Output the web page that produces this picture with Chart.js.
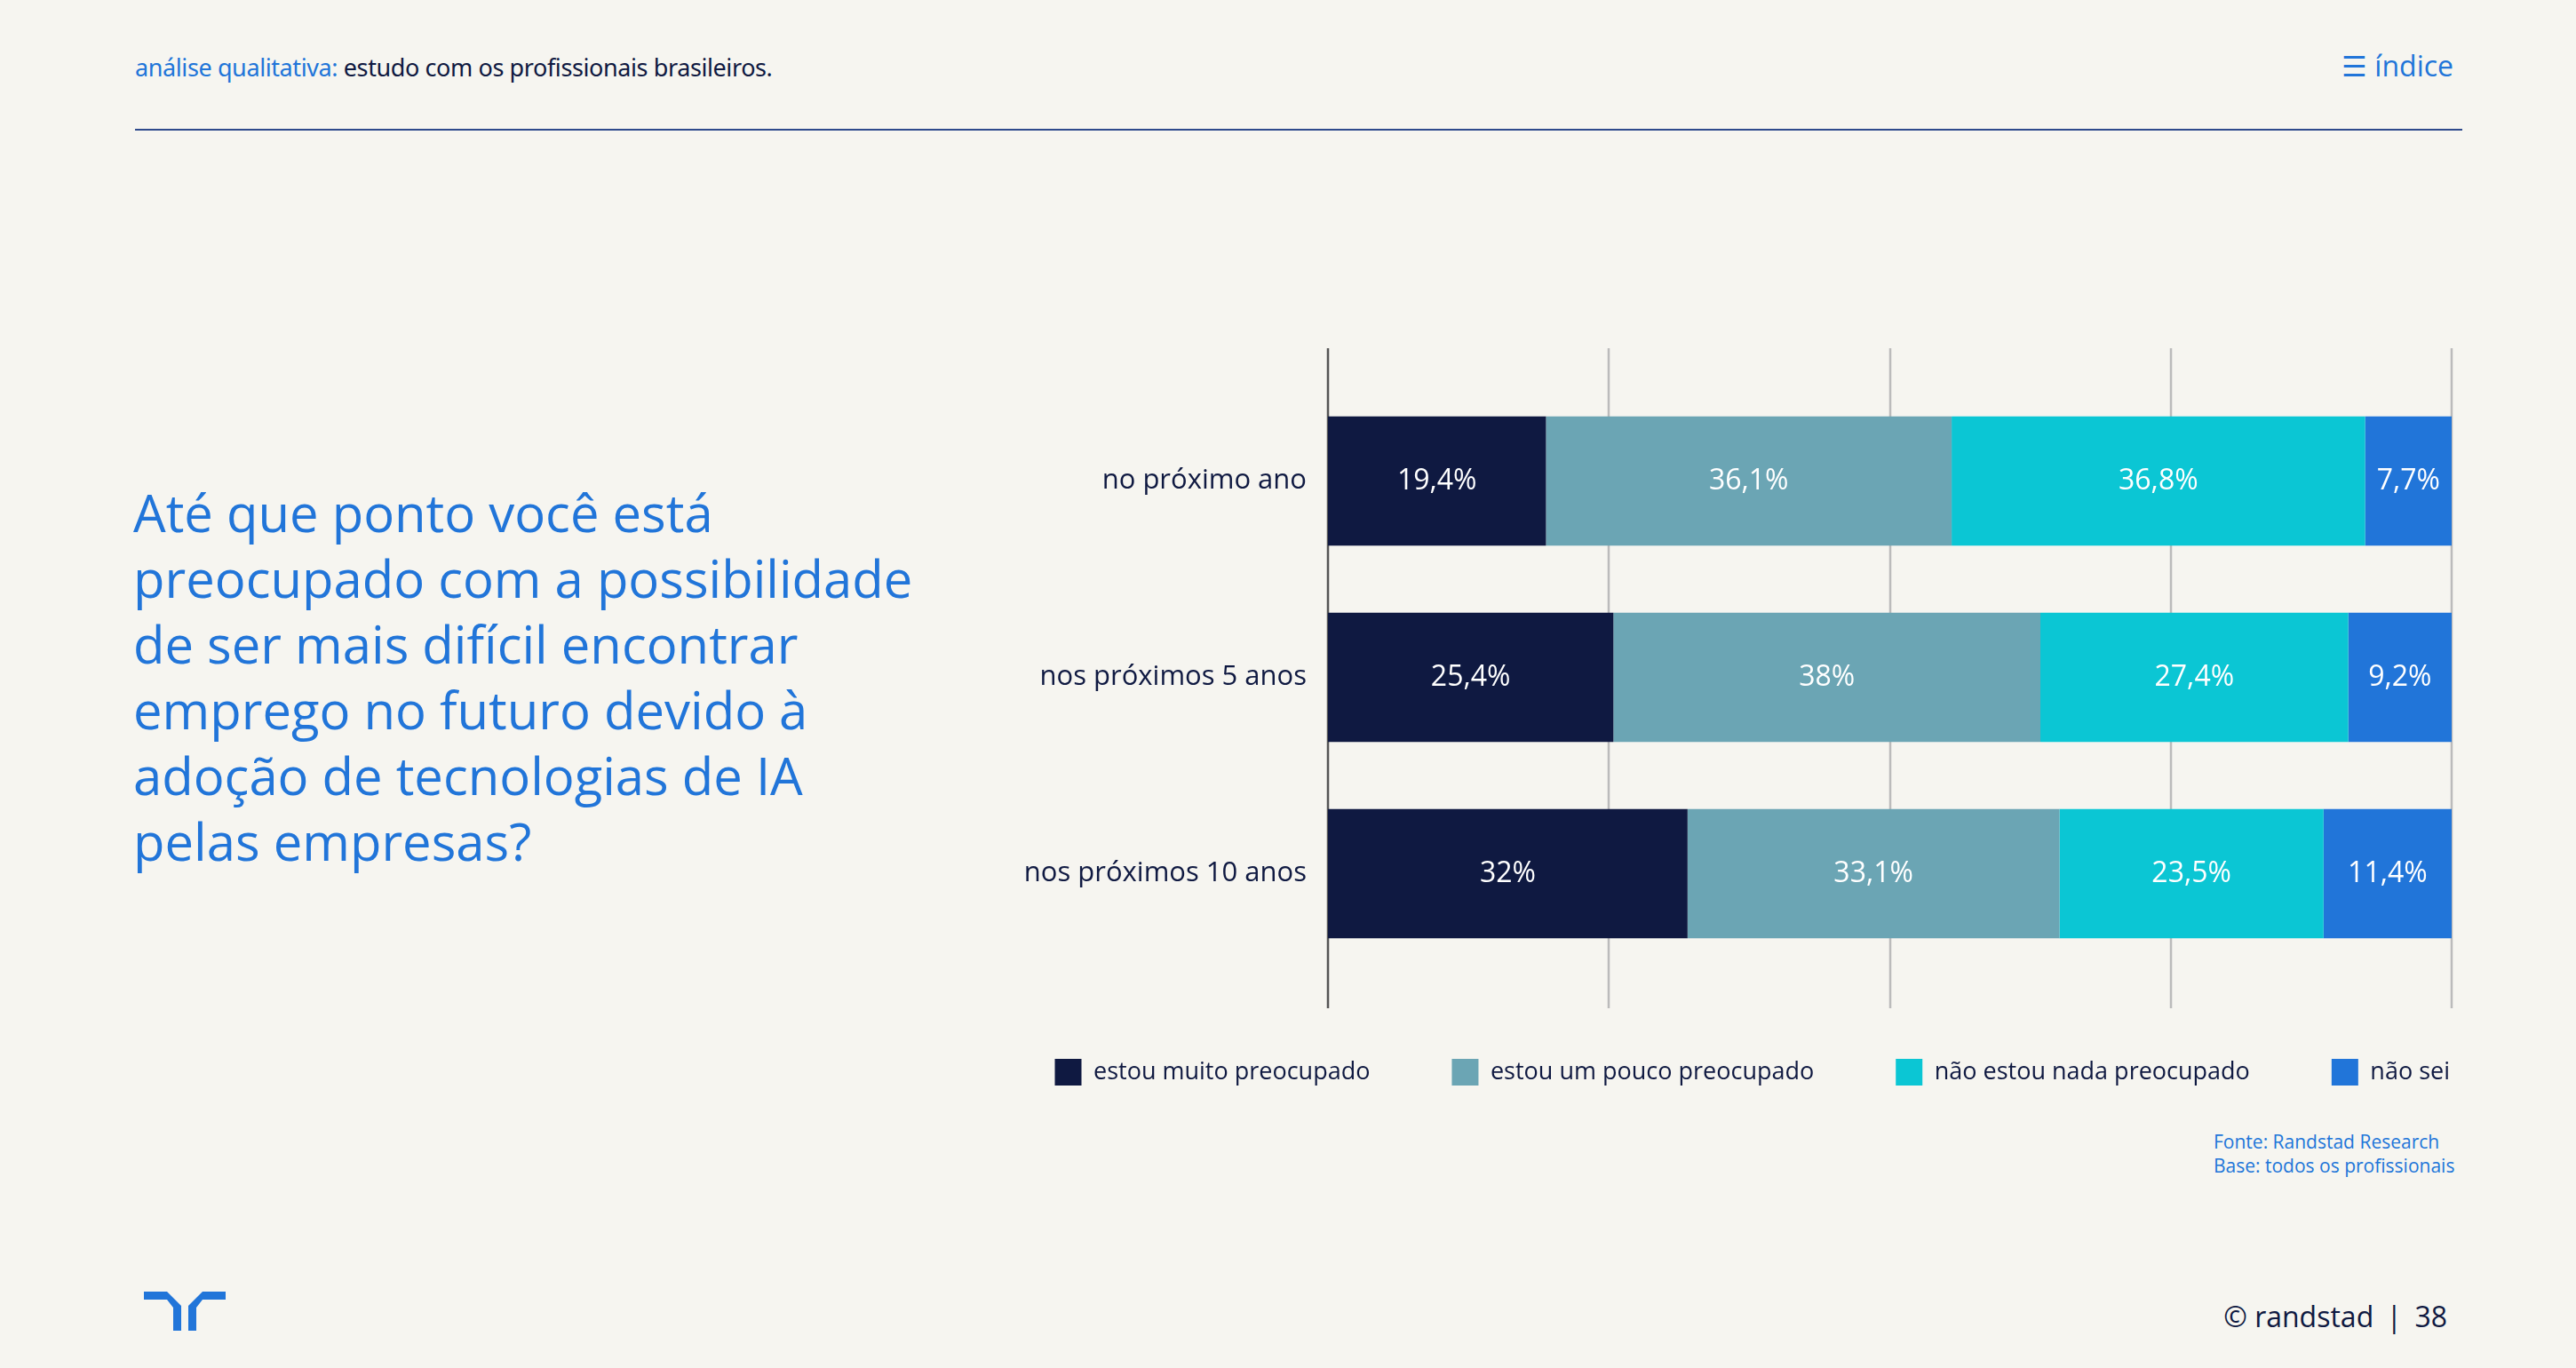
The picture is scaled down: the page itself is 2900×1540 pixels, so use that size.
<!DOCTYPE html>
<html><head><meta charset="utf-8">
<script src="https://cdn.jsdelivr.net/npm/chart.js@4"></script>
<style>
body{margin:0;width:2900px;height:1540px;background:#f6f5f0;font-family:'Open Sans','Noto Sans',sans-serif;position:relative;overflow:hidden;color:#0f1941}
.abs{position:absolute}
</style></head><body>
<div class="abs" style="left:152px;top:57px;font-size:27px;font-family:'Noto Sans';letter-spacing:-0.4px"><span style="color:#2175d9">análise qualitativa:</span> estudo com os profissionais brasileiros.</div>
<div class="abs" style="right:138px;top:52px;font-size:32px;color:#2175d9">☰ índice</div>
<div class="abs" style="left:152px;top:145px;width:2620px;height:2px;background:#2e4a8c"></div>
<div class="abs" style="left:150px;top:540px;font-size:58px;line-height:74px;color:#2175d9;width:900px">Até que ponto você está preocupado com a possibilidade de ser mais difícil encontrar emprego no futuro devido à adoção de tecnologias de IA pelas empresas?</div>
<div class="abs" style="left:1000px;top:392px;width:1850px;height:840px"><canvas id="c" width="1850" height="840"></canvas></div>
<div class="abs" style="left:2492px;top:1272px;font-size:21px;line-height:27px;color:#2175d9">Fonte: Randstad Research<br>Base: todos os profissionais</div>
<svg class="abs" style="left:160px;top:1452px" width="96" height="48" viewBox="0 0 96 48"><path d="M2 2H28L44 18V46H35V20L28 11H2Z M94 2H68L52 18V46H61V20L68 11H94Z" fill="#2175d9"/></svg>
<div class="abs" style="right:145px;top:1460px;font-size:32px">© randstad <span style="margin:0 6px">|</span> 38</div>
<script>
const categories=['no próximo ano','nos próximos 5 anos','nos próximos 10 anos'];
const seriesNames=['estou muito preocupado','estou um pouco preocupado','não estou nada preocupado','não sei'];
const muito=[19.4,25.4,32];
const pouco=[36.1,38,33.1];
const nada=[36.8,27.4,23.5];
const naoSei=[7.7,9.2,11.4];
const ticks=[0,25,50,75,100];
const colors=['#0f1941','#6ba5b4','#0bc6d4','#2175d9'];
const vals=[muito,pouco,nada,naoSei];
const fmt=v=>String(v).replace('.',',')+'%';
const grid={id:'grid',beforeDatasetsDraw(ch){const x=ch.scales.x,c=ch.ctx;c.save();ticks.forEach((t,i)=>{const px=Math.round(x.getPixelForValue(t));c.strokeStyle=i==0?'#555':'#bbb';c.lineWidth=2.5;c.beginPath();c.moveTo(px,0);c.lineTo(px,743);c.stroke();});c.restore();}};
const labels={id:'lbl',afterDatasetsDraw(ch){const c=ch.ctx;c.save();c.fillStyle='#fff';c.font='32px "Open Sans"';c.textAlign='center';c.textBaseline='middle';ch.data.datasets.forEach((d,i)=>{ch.getDatasetMeta(i).data.forEach((b,j)=>{c.fillText(fmt(d.data[j]),(b.x+b.base)/2,b.y);});});c.restore();}};
new Chart(document.getElementById('c'),{type:'bar',
data:{labels:categories,datasets:vals.map((v,i)=>({label:seriesNames[i],data:v,backgroundColor:colors[i],barPercentage:0.658,categoryPercentage:1}))},
options:{responsive:false,animation:false,indexAxis:'y',
layout:{padding:{top:39,right:0,bottom:0,left:0}},
scales:{x:{stacked:true,min:0,max:100,grid:{display:false},border:{display:false},ticks:{display:false},afterFit(s){s.height=6;}},
y:{stacked:true,grid:{display:false},border:{display:false},ticks:{color:'#0f1941',font:{size:31,family:'Open Sans'},padding:16},afterFit(s){s.width=495;}},
y2:{position:'right',grid:{display:false},border:{display:false},ticks:{display:false},afterFit(s){s.width=90;}}},
plugins:{tooltip:{enabled:false},legend:{position:'bottom',align:'end',labels:{color:'#0f1941',font:{size:27,family:'Open Sans'},boxWidth:30,boxHeight:30,padding:92}}}},
plugins:[grid,labels]});
</script></body></html>
